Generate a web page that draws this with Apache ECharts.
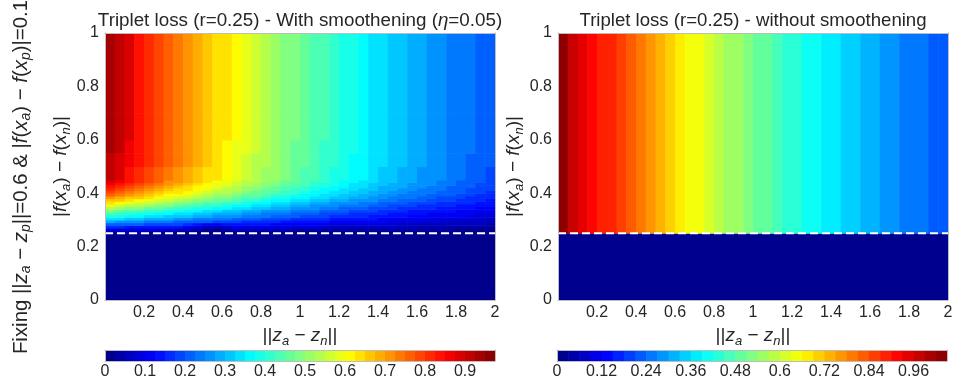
<!DOCTYPE html>
<html><head><meta charset="utf-8">
<script src="https://cdn.jsdelivr.net/npm/echarts@6/dist/echarts.min.js"></script>
<style>html,body{margin:0;padding:0;background:#fff}#c{width:960px;height:387px}</style>
</head><body><div id="c"></div>
<script>
// ---------------- data ----------------
const margin = 0.25;            // r : below this |f(xa)-f(xn)| the loss is 0
const zAnDist = [0.025,0.075,0.125,0.175,0.225,0.275,0.325,0.375,0.425,0.475,0.525,0.575,0.625,0.675,0.725,0.775,0.825,0.875,0.925,0.975,1.025,1.075,1.125,1.175,1.225,1.275,1.325,1.375,1.425,1.475,1.525,1.575,1.625,1.675,1.725,1.775,1.825,1.875,1.925,1.975];
// row edges of |f(xa)-f(xn)| (above the margin)
const fAnEdges = [0.25,0.26,0.27,0.28,0.29,0.30,0.31,0.32,0.33,0.34,0.35,0.36,0.37,0.38,0.39,0.40,0.41,0.42,0.43,0.44,0.45,0.50,0.55,0.60,0.70,1.0];
// smoothed loss (x1000), one row per band of fAnEdges, bottom to top
const smoothLossMilli = [
[28,27,26,25,24,24,23,22,21,21,10,10,19,18,17,16,16,15,15,14,14,13,13,12,12,11,11,10,10,9,9,9,8,8,7,7,7,7,6,6],
[94,91,88,86,83,80,77,75,72,40,20,20,40,61,58,56,54,52,50,48,47,45,43,41,40,38,37,35,34,33,31,30,29,28,26,25,24,23,22,21],
[159,154,149,145,140,135,131,126,122,80,50,50,75,102,99,95,92,88,85,82,78,76,73,70,67,65,62,59,57,55,52,50,48,46,44,42,40,39,37,35],
[224,217,210,204,197,191,184,178,172,140,110,105,130,144,139,134,129,124,119,115,110,106,102,98,94,91,87,83,80,77,74,71,67,65,62,59,57,54,52,49],
[281,272,263,256,247,239,231,223,216,208,202,195,188,181,174,168,162,156,150,144,139,133,128,123,118,114,109,105,100,97,93,89,85,82,78,75,71,68,65,62],
[336,326,315,306,296,286,276,267,258,249,241,233,225,216,208,201,193,186,179,172,166,159,153,147,141,136,131,125,120,115,111,106,101,97,93,89,85,81,77,74],
[393,381,368,358,345,334,323,312,302,292,282,272,263,253,244,235,226,218,209,201,194,187,179,172,166,159,153,146,140,135,129,124,119,114,109,104,100,95,91,87],
[429,416,402,391,377,365,353,341,330,318,308,297,287,276,266,256,247,237,228,219,211,203,196,188,180,173,167,159,153,147,141,135,129,124,118,113,108,104,98,94],
[476,461,446,433,419,405,391,378,366,353,342,330,319,306,295,284,274,263,253,244,234,226,217,208,200,193,185,177,170,163,156,150,143,138,131,126,120,115,109,104],
[533,516,499,485,468,453,438,423,410,395,382,369,357,343,330,318,306,295,284,273,263,253,243,233,224,216,207,198,190,183,175,168,160,154,147,141,135,129,123,117],
[579,561,542,527,509,492,476,460,445,429,415,401,387,372,359,345,332,320,308,296,285,274,264,253,243,233,225,215,206,198,190,182,174,167,159,153,146,140,133,127],
[626,606,586,569,550,532,514,497,481,464,449,433,419,402,388,374,360,346,333,320,308,297,285,274,263,253,243,232,223,214,205,197,188,181,173,165,158,151,144,137],
[673,652,630,612,591,572,553,534,517,499,482,466,450,433,417,402,387,372,358,344,331,319,307,295,283,272,261,250,240,230,221,212,202,194,186,178,170,163,155,148],
[719,697,674,655,632,612,592,572,553,534,516,498,482,463,446,430,414,398,383,368,355,341,328,315,303,291,280,267,257,247,237,227,217,208,199,190,182,174,166,158],
[757,733,709,689,665,644,622,601,582,562,543,524,507,487,469,452,435,419,403,387,373,359,345,332,319,306,294,281,270,260,249,238,228,219,209,200,191,183,174,166],
[789,765,739,718,694,672,649,627,607,586,566,547,528,508,489,472,454,437,420,404,389,374,360,346,332,320,307,293,282,271,260,249,238,228,218,209,200,191,182,173],
[817,792,766,744,718,696,672,649,628,606,586,566,547,526,507,488,470,452,435,418,402,388,373,358,344,331,318,304,291,280,269,257,246,236,226,216,206,198,188,179],
[840,814,787,765,738,715,691,667,646,623,603,582,562,540,521,502,483,465,447,430,414,398,383,368,353,340,326,312,299,288,276,264,252,243,232,222,212,203,193,184],
[864,837,810,786,760,736,711,686,664,641,620,599,578,556,536,516,497,478,460,442,426,410,394,378,364,350,336,321,308,296,284,272,260,250,239,229,218,209,199,190],
[882,855,827,803,775,750,725,701,678,654,633,611,590,568,547,527,507,488,469,451,434,418,402,386,371,357,343,328,314,302,290,277,265,255,243,233,223,213,203,193],
[904,876,847,823,795,770,744,718,695,671,649,626,605,582,561,540,520,501,481,463,446,429,413,396,381,366,352,336,323,310,297,285,272,262,250,239,229,219,208,199],
[920,891,862,837,808,783,756,730,707,682,660,637,615,592,570,549,529,509,489,470,453,436,419,402,387,372,357,341,328,315,302,289,276,266,254,243,232,222,211,202],
[929,900,871,846,817,791,764,738,714,689,667,644,622,598,576,555,534,514,494,475,458,441,424,407,391,376,361,345,331,318,305,292,279,269,257,246,235,225,214,204],
[934,905,875,850,821,795,768,742,718,693,670,647,625,601,579,558,537,517,497,478,460,443,426,409,393,378,363,347,333,320,307,294,281,270,258,247,236,226,215,205],
[934,905,875,850,821,795,768,742,718,693,670,647,625,601,579,558,537,517,497,478,460,443,426,409,393,378,363,347,333,320,307,294,281,270,258,247,236,226,215,205]
];
// loss without smoothening (x1000) above the margin, per zAnDist column
const plainLossMilli = [1025,989,955,929,899,870,840,812,782,757,732,707,681,657,632,609,587,566,544,524,504,485,465,446,429,411,394,377,361,347,332,319,307,294,282,269,257,246,234,223];
const plainEdges = [0.25, 1.0];

const plotXTicks = [0.2,0.4,0.6,0.8,1,1.2,1.4,1.6,1.8,2];
const plotYTicks = [0,0.2,0.4,0.6,0.8,1];
const leftBarTicks = [0,0.1,0.2,0.3,0.4,0.5,0.6,0.7,0.8,0.9];
const rightBarTicks = [0,0.12,0.24,0.36,0.48,0.6,0.72,0.84,0.96];
const leftLevelStep = 0.025, leftLevelCount = 39;   // colour levels of the left plot
const rightLevelStep = 0.03, rightLevelCount = 35;  // colour levels of the right plot

// ---------------- helpers ----------------
function jet(t) {
  const c = v => Math.round(255 * Math.max(0, Math.min(1, v)));
  return 'rgb(' + c(Math.min(4*t-1.5, -4*t+4.5)) + ',' + c(Math.min(4*t-0.5, -4*t+3.5)) + ',' + c(Math.min(4*t+0.5, -4*t+2.5)) + ')';
}
function pieces(step, n) {
  const p = [];
  for (let k = 0; k < n; k++) p.push({gte: k*step - (k === 0 ? 1 : 0), lt: (k+1)*step + (k === n-1 ? 1 : 0), color: jet((k+0.5)/n)});
  return p;
}
function buildCells(xs, edges, matrix) {
  const half = (xs[1] - xs[0]) / 2;
  const x0 = xs[0] - half, x1 = xs[xs.length-1] + half;
  const out = [[x0, x1, 0, margin, 0]];
  matrix.forEach((row, j) => row.forEach((v, i) => out.push([xs[i]-half, xs[i]+half, edges[j], edges[j+1], v/1000])));
  return out;
}
function barCells(step, n) {
  const out = [];
  for (let k = 0; k < n; k++) out.push([k*step, (k+1)*step, 0, 1, (k+0.5)*step]);
  return out;
}
function renderCell(params, api) {
  const a = api.coord([api.value(0), api.value(3)]);
  const b = api.coord([api.value(1), api.value(2)]);
  return {type: 'rect', shape: {x: a[0], y: a[1], width: b[0]-a[0]+0.6, height: b[1]-a[1]+0.6},
          style: {fill: api.visual('color'), stroke: null}};
}

const FONT = 'Liberation Sans, Arial, Helvetica, sans-serif';
const TXT = '#262626';
const FRAME = '#bdbdbd';
const nameRich = {
  n: {fontSize: 19, fontFamily: FONT, color: TXT, lineHeight: 24},
  i: {fontSize: 19, fontFamily: FONT, color: TXT, fontStyle: 'italic', lineHeight: 24},
  s: {fontSize: 13, fontFamily: FONT, color: TXT, fontStyle: 'italic', verticalAlign: 'bottom'}
};
const labelStyle = {fontSize: 16, fontFamily: FONT, color: TXT};

const grids = [
  {left: 105, top: 33, width: 390, height: 267},
  {left: 558, top: 33, width: 390, height: 267},
  {left: 105, top: 350, width: 390, height: 11},
  {left: 557, top: 350, width: 390, height: 11}
];
const xName = '{n|||}{i|z}{s|a}{n| − }{i|z}{s|n}{n|||}';
const yName = '{n||}{i|f}{n|(}{i|x}{s|a}{n|) − }{i|f}{n|(}{i|x}{s|n}{n|)|}';

function mainX(g, name) {
  return {type: 'value', gridIndex: g, min: 0, max: 2, z: 10,
    axisLine: {show: true, lineStyle: {color: FRAME, width: 1}}, axisTick: {show: false}, splitLine: {show: false},
    axisLabel: Object.assign({customValues: plotXTicks, margin: 5}, labelStyle),
    name: name, nameLocation: 'middle', nameGap: 22, nameTextStyle: {rich: nameRich}};
}
function mainY(g, name) {
  return {type: 'value', gridIndex: g, min: 0, max: 1, z: 10,
    axisLine: {show: true, lineStyle: {color: FRAME, width: 1}}, axisTick: {show: false}, splitLine: {show: false},
    axisLabel: Object.assign({customValues: plotYTicks, margin: 6}, labelStyle),
    name: name, nameLocation: 'middle', nameGap: 30, nameRotate: 90, nameTextStyle: {rich: nameRich}};
}
function frameAxis(g, pos, min, max) {
  return {type: 'value', gridIndex: g, position: pos, min: min, max: max, z: 10,
    axisLine: {show: true, onZero: false, lineStyle: {color: FRAME, width: 1}}, axisTick: {show: false},
    axisLabel: {show: false}, splitLine: {show: false}};
}
function barX(g, max, ticks) {
  return {type: 'value', gridIndex: g, min: 0, max: max, z: 10,
    axisLine: {show: true, lineStyle: {color: FRAME, width: 1}}, axisTick: {show: false}, splitLine: {show: false},
    axisLabel: Object.assign({customValues: ticks, margin: 3}, labelStyle)};
}

const leftMax = leftLevelStep * leftLevelCount;
const rightMax = rightLevelStep * rightLevelCount;

const option = {
  animation: false,
  backgroundColor: '#fff',
  textStyle: {fontFamily: FONT},
  title: [
    {text: '{t|Triplet loss (r=0.25) - With smoothening (}{i|η}{t|=0.05)}', left: 300, top: 11, padding: 0, textAlign: 'center',
     textStyle: {rich: {t: {fontSize: 18.8, fontFamily: FONT, color: TXT, fontWeight: 'normal'}, i: {fontSize: 18.8, fontFamily: FONT, color: TXT, fontStyle: 'italic', fontWeight: 'normal'}}}},
    {text: 'Triplet loss (r=0.25) - without smoothening', left: 753, top: 11, padding: 0, textAlign: 'center',
     textStyle: {fontSize: 18.6, fontFamily: FONT, color: TXT, fontWeight: 'normal'}}
  ],
  grid: grids,
  xAxis: [mainX(0, xName), mainX(1, xName), barX(2, leftMax, leftBarTicks), barX(3, rightMax, rightBarTicks),
          frameAxis(0, 'top', 0, 2), frameAxis(1, 'top', 0, 2), frameAxis(2, 'top', 0, leftMax), frameAxis(3, 'top', 0, rightMax)],
  yAxis: [mainY(0, yName), mainY(1, yName),
          {type: 'value', gridIndex: 2, min: 0, max: 1, z: 10, axisLine: {show: true, lineStyle: {color: FRAME}}, axisTick: {show: false}, axisLabel: {show: false}, splitLine: {show: false}},
          {type: 'value', gridIndex: 3, min: 0, max: 1, z: 10, axisLine: {show: true, lineStyle: {color: FRAME}}, axisTick: {show: false}, axisLabel: {show: false}, splitLine: {show: false}},
          frameAxis(0, 'right', 0, 1), frameAxis(1, 'right', 0, 1), frameAxis(2, 'right', 0, 1), frameAxis(3, 'right', 0, 1)],
  visualMap: [
    {type: 'piecewise', show: false, seriesIndex: [0, 2], dimension: 4, pieces: pieces(leftLevelStep, leftLevelCount)},
    {type: 'piecewise', show: false, seriesIndex: [1, 3], dimension: 4, pieces: pieces(rightLevelStep, rightLevelCount)}
  ],
  series: [
    {type: 'custom', xAxisIndex: 0, yAxisIndex: 0, renderItem: renderCell, clip: true, encode: {x: [0, 1], y: [2, 3]},
     data: buildCells(zAnDist, fAnEdges, smoothLossMilli)},
    {type: 'custom', xAxisIndex: 1, yAxisIndex: 1, renderItem: renderCell, clip: true, encode: {x: [0, 1], y: [2, 3]},
     data: buildCells(zAnDist, plainEdges, [plainLossMilli])},
    {type: 'custom', xAxisIndex: 2, yAxisIndex: 2, renderItem: renderCell, clip: true, encode: {x: [0, 1], y: [2, 3]},
     data: barCells(leftLevelStep, leftLevelCount)},
    {type: 'custom', xAxisIndex: 3, yAxisIndex: 3, renderItem: renderCell, clip: true, encode: {x: [0, 1], y: [2, 3]},
     data: barCells(rightLevelStep, rightLevelCount)},
    {type: 'line', xAxisIndex: 0, yAxisIndex: 0, z: 5, symbol: 'none', silent: true,
     lineStyle: {color: '#fff', width: 2, type: [8, 4]}, data: [[0, margin], [2, margin]]},
    {type: 'line', xAxisIndex: 1, yAxisIndex: 1, z: 5, symbol: 'none', silent: true,
     lineStyle: {color: '#fff', width: 2, type: [8, 4]}, data: [[0, margin], [2, margin]]}
  ],
  graphic: [{
    type: 'text', x: 21, y: 177, rotation: Math.PI / 2,
    style: {
      text: '{n|Fixing ||}{i|z}{s|a}{n| − }{i|z}{s|p}{n|||=0.6 & |}{i|f}{n|(}{i|x}{s|a}{n|) − }{i|f}{n|(}{i|x}{s|p}{n|)|=0.1}',
      align: 'center', verticalAlign: 'middle', fill: TXT, font: '20.4px ' + FONT,
      rich: {
        n: {fontSize: 20.4, fontFamily: FONT, fill: TXT, lineHeight: 25},
        i: {fontSize: 20.4, fontFamily: FONT, fill: TXT, fontStyle: 'italic', lineHeight: 25},
        s: {fontSize: 14, fontFamily: FONT, fill: TXT, fontStyle: 'italic', verticalAlign: 'bottom'}
      }
    }
  }]
};
const chart = echarts.init(document.getElementById('c'), null, {renderer: 'canvas'});
chart.setOption(option);
</script>
</body></html>
